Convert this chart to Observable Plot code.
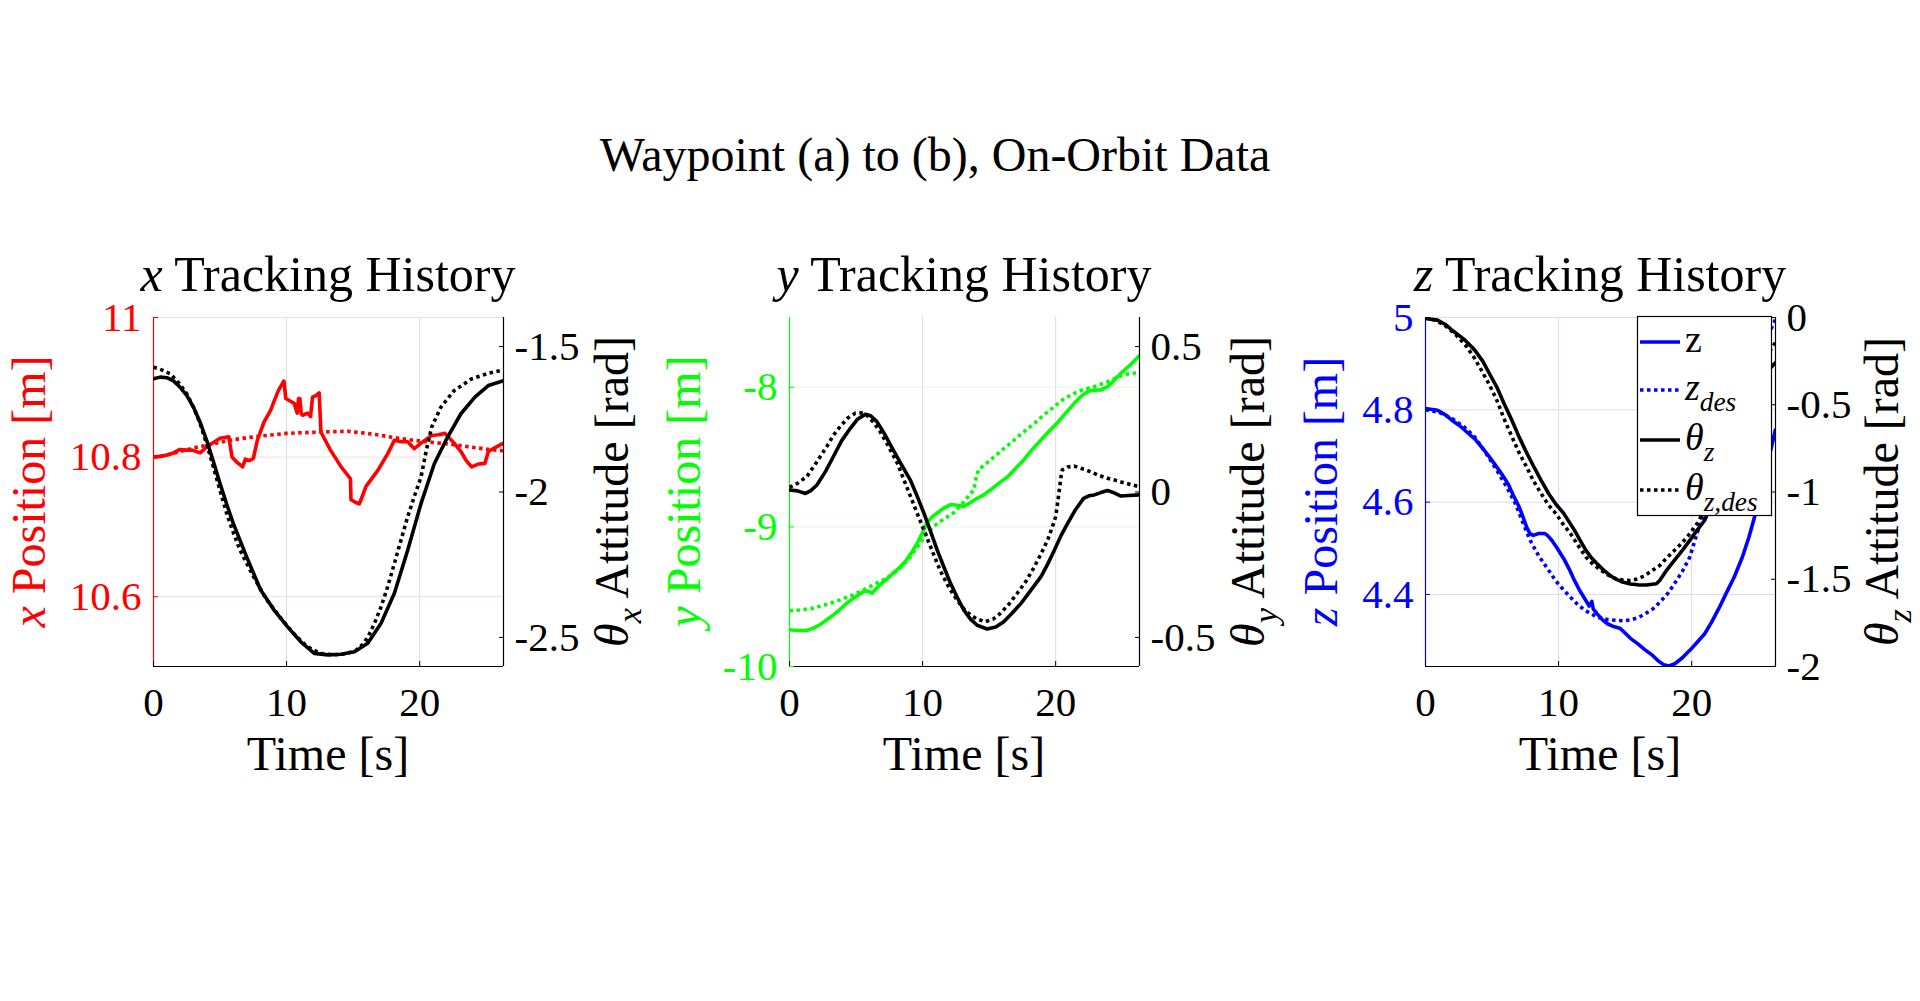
<!DOCTYPE html>
<html>
<head>
<meta charset="utf-8">
<script src="https://cdn.jsdelivr.net/npm/d3@7"></script>
<script src="https://cdn.jsdelivr.net/npm/@observablehq/plot@0.6"></script>
<style>
html, body { margin: 0; padding: 0; background: #fff; }
#root { position: relative; width: 1920px; height: 1001px; overflow: hidden; background: #fff; font-family: "Liberation Serif", serif; }
.layer { position: absolute; }
</style>
</head>
<body>
<div id="root"></div>
<script>
// ---------------- data ----------------
const mainTitle = "Waypoint (a) to (b), On-Orbit Data";
const timeTicks = [0, 10, 20];
const timeDomain = [0, 26.3];

// panel x
const xPosDomain = [10.5, 11];
const xPosTicks = [10.6, 10.8, 11];
const thetaXDomain = [-2.6, -1.4];
const thetaXTicks = [-2.5, -2, -1.5];
const xPos = [[0,10.800],[0.5,10.801],[1.0,10.803],[1.5,10.806],[2.0,10.811],[2.5,10.810],[2.9,10.810],[3.5,10.806],[3.8,10.811],[4.15,10.817],[4.6,10.822],[5.0,10.827],[5.66,10.829],[5.9,10.800],[6.3,10.792],[6.7,10.786],[6.9,10.797],[7.2,10.795],[7.5,10.798],[7.8,10.824],[8.3,10.850],[8.8,10.867],[9.1,10.882],[9.4,10.896],[9.8,10.909],[9.94,10.884],[10.3,10.880],[10.57,10.877],[10.8,10.863],[10.9,10.884],[11.0,10.884],[11.1,10.862],[11.2,10.860],[11.57,10.863],[11.8,10.858],[11.95,10.886],[12.2,10.888],[12.45,10.892],[12.58,10.836],[13.3,10.810],[14.1,10.786],[14.8,10.769],[14.84,10.739],[15.2,10.735],[15.47,10.733],[15.97,10.758],[16.86,10.781],[17.6,10.805],[18.1,10.824],[18.6,10.822],[19.1,10.822],[19.6,10.812],[20.1,10.820],[20.9,10.831],[21.4,10.832],[21.9,10.834],[22.6,10.820],[23.1,10.808],[23.5,10.795],[23.9,10.786],[24.4,10.790],[24.9,10.791],[25.16,10.808],[25.7,10.814],[26.3,10.820]];
const xDes = [[0,10.800],[1,10.803],[2,10.808],[3,10.813],[4,10.817],[5,10.821],[6,10.825],[7.5,10.829],[10,10.834],[12.6,10.836],[14.6,10.837],[16,10.834],[17.1,10.831],[18.4,10.827],[19.6,10.824],[21,10.821],[22.1,10.819],[23.6,10.815],[25.2,10.811],[26.3,10.809]];
const thetaX = [[0,-1.611],[0.5,-1.605],[1.0,-1.607],[1.5,-1.618],[2.0,-1.640],[2.5,-1.668],[3.0,-1.708],[3.5,-1.760],[4.0,-1.823],[4.5,-1.895],[5.0,-1.971],[5.5,-2.042],[6.0,-2.109],[7.0,-2.223],[8.05,-2.337],[9.06,-2.406],[10.06,-2.463],[11.07,-2.515],[12.08,-2.555],[13.1,-2.560],[14.1,-2.558],[15.1,-2.549],[16.1,-2.520],[17.1,-2.451],[18.1,-2.348],[19.1,-2.200],[20.1,-2.040],[21.1,-1.903],[22.1,-1.811],[23.1,-1.731],[24.15,-1.674],[25.16,-1.634],[26.3,-1.617]];
const thetaXDes = [[0,-1.571],[0.6,-1.580],[1.26,-1.594],[1.9,-1.625],[2.5,-1.662],[3.0,-1.708],[3.5,-1.765],[4.0,-1.835],[4.5,-1.914],[5.0,-1.995],[5.5,-2.074],[6.0,-2.140],[6.5,-2.200],[7.5,-2.290],[8.5,-2.370],[9.5,-2.430],[10.5,-2.485],[11.5,-2.530],[12.5,-2.555],[13.5,-2.560],[14.5,-2.556],[15.2,-2.545],[15.7,-2.525],[16.1,-2.500],[16.6,-2.452],[17.1,-2.395],[17.6,-2.325],[18.1,-2.246],[18.6,-2.165],[19.1,-2.085],[19.6,-2.015],[20.1,-1.949],[20.5,-1.857],[20.9,-1.777],[21.6,-1.708],[22.6,-1.651],[23.9,-1.611],[25.16,-1.592],[26.3,-1.580]];

// panel y
const yPosDomain = [-10, -7.5];
const yPosTicks = [-10, -9, -8];
const thetaYDomain = [-0.6, 0.6];
const thetaYTicks = [-0.5, 0, 0.5];
const yPos = [[0,-9.737],[0.6,-9.742],[1.3,-9.742],[1.8,-9.725],[2.3,-9.700],[2.8,-9.665],[3.3,-9.630],[3.8,-9.590],[4.3,-9.547],[4.9,-9.505],[5.57,-9.463],[5.9,-9.460],[6.2,-9.475],[6.5,-9.445],[6.8,-9.415],[7.3,-9.375],[7.8,-9.330],[8.3,-9.290],[8.8,-9.236],[9.2,-9.180],[9.6,-9.117],[10.0,-9.040],[10.3,-8.974],[10.7,-8.930],[11.1,-8.900],[11.6,-8.865],[12.1,-8.840],[12.6,-8.845],[13.1,-8.854],[13.6,-8.825],[14.1,-8.795],[14.6,-8.770],[15.1,-8.735],[15.7,-8.690],[16.4,-8.640],[17.0,-8.580],[17.6,-8.520],[18.2,-8.450],[18.9,-8.377],[19.5,-8.315],[20.1,-8.258],[20.7,-8.190],[21.4,-8.115],[21.9,-8.065],[22.4,-8.031],[22.9,-8.020],[23.4,-8.019],[23.9,-7.995],[24.4,-7.950],[24.9,-7.900],[25.6,-7.840],[26.27,-7.776]];
const yDes = [[0,-9.600],[0.9,-9.595],[1.8,-9.582],[2.8,-9.555],[3.8,-9.523],[4.8,-9.485],[5.8,-9.440],[6.5,-9.405],[7.3,-9.367],[8.0,-9.320],[8.8,-9.248],[9.3,-9.185],[9.8,-9.117],[10.3,-9.050],[10.8,-8.998],[11.5,-8.950],[12.3,-8.902],[13.1,-8.820],[13.85,-8.735],[14.0,-8.660],[14.2,-8.590],[14.8,-8.545],[15.4,-8.496],[16.1,-8.440],[16.9,-8.377],[17.6,-8.320],[18.4,-8.258],[19.1,-8.200],[19.9,-8.138],[20.6,-8.085],[21.4,-8.043],[22.1,-8.015],[22.9,-7.995],[23.4,-7.978],[23.9,-7.960],[24.5,-7.935],[25.1,-7.910],[25.7,-7.900],[26.27,-7.895]];
const thetaY = [[0,0.007],[0.6,0.004],[1.2,-0.005],[1.6,0.005],[2.06,0.024],[2.7,0.070],[3.3,0.122],[3.9,0.175],[4.57,0.219],[5.1,0.250],[5.7,0.267],[6.1,0.262],[6.57,0.242],[7.2,0.195],[7.8,0.144],[8.4,0.095],[9.08,0.041],[9.6,-0.015],[10.1,-0.073],[10.6,-0.135],[11.1,-0.200],[11.6,-0.258],[12.1,-0.314],[12.6,-0.362],[13.1,-0.406],[13.6,-0.437],[14.1,-0.458],[14.85,-0.471],[15.5,-0.464],[16.1,-0.446],[16.7,-0.418],[17.4,-0.383],[18.1,-0.340],[18.9,-0.291],[19.4,-0.248],[19.9,-0.200],[20.4,-0.150],[20.9,-0.108],[21.5,-0.060],[22.1,-0.022],[22.5,-0.013],[22.9,-0.010],[23.4,-0.002],[23.9,0.005],[24.4,-0.003],[24.9,-0.014],[25.5,-0.012],[26.27,-0.010]];
const thetaYDes = [[0,0.016],[0.6,0.030],[1.3,0.053],[2.0,0.100],[2.8,0.156],[3.3,0.195],[3.8,0.225],[4.4,0.255],[4.94,0.271],[5.4,0.272],[5.8,0.265],[6.3,0.240],[6.8,0.208],[7.4,0.160],[8.1,0.099],[8.7,0.030],[9.3,-0.039],[9.8,-0.097],[10.3,-0.154],[10.8,-0.211],[11.3,-0.268],[12.0,-0.330],[12.6,-0.372],[13.1,-0.402],[13.6,-0.423],[14.1,-0.437],[14.7,-0.446],[15.3,-0.437],[15.86,-0.417],[16.5,-0.385],[17.1,-0.349],[17.8,-0.305],[18.4,-0.257],[18.9,-0.213],[19.4,-0.165],[19.75,-0.120],[20.0,-0.085],[20.2,-0.020],[20.4,0.053],[20.5,0.076],[20.9,0.086],[21.4,0.089],[22.0,0.080],[22.6,0.070],[23.2,0.058],[23.9,0.047],[24.5,0.040],[25.1,0.032],[25.7,0.025],[26.27,0.018]];

// panel z
const zPosDomain = [4.244, 5];
const zPosTicks = [4.4, 4.6, 4.8, 5];
const thetaZDomain = [-2, 0];
const thetaZTicks = [-2, -1.5, -1, -0.5, 0];
const zPos = [[0,4.803],[0.9,4.799],[1.5,4.789],[2.0,4.777],[2.6,4.765],[3.1,4.752],[3.7,4.737],[4.2,4.720],[4.8,4.698],[5.36,4.676],[5.8,4.658],[6.2,4.640],[6.6,4.615],[7.03,4.590],[7.3,4.570],[7.6,4.546],[7.85,4.532],[8.1,4.528],[8.5,4.532],[8.98,4.532],[9.2,4.527],[9.5,4.517],[9.9,4.500],[10.4,4.477],[10.8,4.455],[11.2,4.430],[11.6,4.408],[12.05,4.387],[12.3,4.375],[12.5,4.385],[12.6,4.369],[12.9,4.358],[13.3,4.345],[13.7,4.336],[14.2,4.330],[14.6,4.327],[14.8,4.322],[15.4,4.305],[15.96,4.293],[16.5,4.280],[17.07,4.268],[17.5,4.256],[17.9,4.248],[18.3,4.245],[18.74,4.250],[19.3,4.263],[19.86,4.279],[20.4,4.296],[20.98,4.315],[21.5,4.340],[22.1,4.373],[22.6,4.403],[23.2,4.438],[23.8,4.480],[24.3,4.524],[24.7,4.565],[25.16,4.618],[25.6,4.670],[26.0,4.720],[26.28,4.756]];
const zDes = [[0,4.800],[1,4.795],[2,4.781],[2.9,4.763],[3.7,4.741],[4.5,4.708],[5.36,4.669],[6.1,4.633],[6.75,4.597],[7.3,4.557],[7.87,4.517],[8.5,4.484],[9.26,4.452],[9.8,4.429],[10.4,4.409],[11.0,4.391],[11.5,4.376],[12.2,4.362],[12.9,4.351],[13.6,4.346],[14.3,4.344],[14.9,4.343],[15.4,4.345],[16.0,4.350],[16.5,4.358],[17.1,4.369],[17.6,4.383],[18.2,4.402],[18.7,4.423],[19.3,4.450],[19.86,4.481],[20.4,4.532],[21.0,4.580],[21.6,4.630],[22.2,4.685],[22.8,4.740],[23.4,4.795],[24.0,4.845],[24.6,4.890],[25.2,4.930],[25.8,4.965],[26.28,4.995]];
const thetaZ = [[0,-0.006],[0.9,-0.015],[1.5,-0.040],[2.0,-0.073],[2.9,-0.125],[3.7,-0.187],[4.3,-0.250],[4.8,-0.321],[5.4,-0.405],[5.9,-0.493],[6.5,-0.590],[7.03,-0.684],[7.6,-0.775],[8.15,-0.857],[8.7,-0.935],[9.26,-1.010],[9.8,-1.070],[10.4,-1.124],[11.2,-1.220],[11.6,-1.275],[12.05,-1.335],[12.5,-1.380],[12.9,-1.411],[13.3,-1.442],[13.7,-1.468],[14.2,-1.495],[14.8,-1.516],[15.4,-1.527],[15.96,-1.532],[16.6,-1.533],[17.35,-1.526],[17.6,-1.507],[18.1,-1.450],[18.7,-1.392],[19.3,-1.335],[19.86,-1.277],[20.4,-1.220],[20.98,-1.162],[22.0,-0.980],[23.0,-0.780],[24.0,-0.580],[25.0,-0.410],[25.8,-0.300],[26.28,-0.260]];
const thetaZDes = [[0,0.000],[0.7,-0.015],[1.45,-0.044],[2.3,-0.100],[3.1,-0.168],[3.7,-0.235],[4.2,-0.302],[4.8,-0.385],[5.36,-0.474],[5.9,-0.580],[6.5,-0.684],[7.0,-0.770],[7.6,-0.857],[8.1,-0.935],[8.7,-1.010],[9.2,-1.070],[9.8,-1.124],[10.3,-1.180],[10.9,-1.239],[11.5,-1.310],[12.05,-1.373],[12.6,-1.415],[13.2,-1.449],[13.7,-1.475],[14.3,-1.497],[14.9,-1.506],[15.4,-1.507],[16.0,-1.497],[16.5,-1.478],[17.0,-1.452],[17.6,-1.421],[18.1,-1.380],[18.7,-1.335],[19.3,-1.290],[19.86,-1.239],[20.4,-1.182],[21.0,-1.100],[22.0,-0.920],[23.0,-0.720],[24.0,-0.520],[25.0,-0.330],[25.8,-0.200],[26.28,-0.145]];

const legendLabels = ["z", "z_des", "θ_z", "θ_z,des"];

// ---------------- layout ----------------
const FONT = "'Liberation Serif', 'Times New Roman', serif";
const FRAME_W = 350, FRAME_H = 349, FRAME_TOP = 317;
const ML = 130, MR = 150, MT = 20, MB = 100;
const W = ML + FRAME_W + MR, H = MT + FRAME_H + MB;
const TICK_FS = 41;
const LW = 3.6, DASH = "3.5,3.5";
const fmt = d => String(d);
const root = document.getElementById("root");

const panels = [
  {left: 153, color: "#ff0000", hgrid: "#ffd9d9", vgrid: "#dcdcdc",
   lDomain: xPosDomain, lTicks: xPosTicks, rDomain: thetaXDomain, rTicks: thetaXTicks,
   act: xPos, des: xDes, ract: thetaX, rdes: thetaXDes},
  {left: 789, color: "#00ff00", hgrid: "#d9ffd9", vgrid: "#dcdcdc",
   lDomain: yPosDomain, lTicks: yPosTicks, rDomain: thetaYDomain, rTicks: thetaYTicks,
   act: yPos, des: yDes, ract: thetaY, rdes: thetaYDes},
  {left: 1425, color: "#0000ff", hgrid: "#d9d9ff", vgrid: "#d9d9f4",
   lDomain: zPosDomain, lTicks: zPosTicks, rDomain: thetaZDomain, rTicks: thetaZTicks,
   act: zPos, des: zDes, ract: thetaZ, rdes: thetaZDes}
];

const svgStyle = {background: "transparent", overflow: "visible", maxWidth: "none", fontFamily: FONT};
const solid = c => ({x: d => d[0], y: d => d[1], stroke: c, strokeWidth: LW, clip: true});
const dotted = c => ({x: d => d[0], y: d => d[1], stroke: c, strokeWidth: LW, strokeDasharray: DASH, strokeLinecap: "butt", clip: true});

function place(svg, p) {
  const div = document.createElement("div");
  div.className = "layer";
  div.style.left = (p.left - ML) + "px";
  div.style.top = (FRAME_TOP - MT) + "px";
  div.appendChild(svg);
  root.appendChild(div);
}

for (const p of panels) {
  const leftPlot = Plot.plot({
    width: W, height: H, marginLeft: ML, marginRight: MR, marginTop: MT, marginBottom: MB,
    style: svgStyle,
    x: {domain: timeDomain, label: null, axis: null},
    y: {domain: p.lDomain, label: null, axis: null},
    marks: [
      Plot.gridX(timeTicks, {stroke: p.vgrid, strokeOpacity: 1}),
      Plot.gridY(p.lTicks, {stroke: p.hgrid, strokeOpacity: 1}),
      Plot.line(p.act, solid(p.color)),
      Plot.line(p.des, dotted(p.color)),
      Plot.ruleY([p.lDomain[0]], {stroke: "black", strokeWidth: 1.2}),
      Plot.ruleX([timeDomain[0]], {stroke: p.color, strokeWidth: 1.2}),
      Plot.axisX(timeTicks, {anchor: "bottom", tickSize: 5, dy: -5, tickFormat: () => "", stroke: "black", label: null}),
      Plot.axisX(timeTicks, {anchor: "bottom", tickSize: 0, tickPadding: 20, tickFormat: fmt, fill: "black", fontSize: TICK_FS, fontFamily: FONT, label: null}),
      Plot.axisY(p.lTicks, {anchor: "left", tickSize: 5, dx: 5, tickFormat: () => "", stroke: p.color, label: null}),
      Plot.axisY(p.lTicks, {anchor: "left", tickSize: 0, tickPadding: 12, tickFormat: fmt, fill: p.color, fontSize: TICK_FS, fontFamily: FONT, label: null})
    ]
  });
  place(leftPlot, p);

  const rightPlot = Plot.plot({
    width: W, height: H, marginLeft: ML, marginRight: MR, marginTop: MT, marginBottom: MB,
    style: svgStyle,
    x: {domain: timeDomain, label: null, axis: null},
    y: {domain: p.rDomain, label: null, axis: null},
    marks: [
      Plot.line(p.ract, solid("black")),
      Plot.line(p.rdes, dotted("black")),
      Plot.ruleX([timeDomain[1]], {stroke: "black", strokeWidth: 1.2}),
      Plot.axisY(p.rTicks, {anchor: "right", tickSize: 5, dx: -5, tickFormat: () => "", stroke: "black", label: null}),
      Plot.axisY(p.rTicks, {anchor: "right", tickSize: 0, tickPadding: 11, tickFormat: fmt, fill: "black", fontSize: TICK_FS, fontFamily: FONT, label: null})
    ]
  });
  place(rightPlot, p);
}

// ---------------- text overlay (titles, labels, legend) ----------------
const ov = d3.select(root).append("svg")
  .attr("width", 1920).attr("height", 1001)
  .style("position", "absolute").style("left", "0px").style("top", "0px")
  .attr("font-family", FONT);

function addText(x, y, parts, {size = 48, anchor = "middle", rotate = false, fill = "black"} = {}) {
  const t = ov.append("text")
    .attr("x", x).attr("y", y)
    .attr("font-size", size)
    .attr("text-anchor", anchor)
    .attr("fill", fill);
  if (rotate) t.attr("transform", `rotate(-90 ${x} ${y})`);
  let shift = 0;
  for (const part of parts) {
    const sp = t.append("tspan").text(part.t);
    if (part.italic) sp.attr("font-style", "italic");
    const want = part.sub ? size * 0.28 : 0;
    if (want !== shift) { sp.attr("dy", want - shift); shift = want; }
    if (part.sub) sp.attr("font-size", size * 0.72);
  }
  return t;
}

addText(935, 171, [{t: mainTitle}], {size: 48});

const axisNames = ["x", "y", "z"];
const leftLabelX = [45, 700, 1337];
const rightLabelX = [628, 1264, 1898];
panels.forEach((p, i) => {
  const cx = p.left + FRAME_W / 2;
  const cy = FRAME_TOP + FRAME_H / 2;
  addText(cx, 291, [{t: axisNames[i], italic: true}, {t: " Tracking History"}], {size: 50});
  addText(cx, 770, [{t: "Time [s]"}], {size: 48});
  addText(leftLabelX[i], cy, [{t: axisNames[i], italic: true}, {t: " Position [m]"}], {size: 48, rotate: true, fill: p.color});
  addText(rightLabelX[i], cy, [{t: "θ", italic: true}, {t: axisNames[i], italic: true, sub: true}, {t: " Attitude [rad]"}], {size: 48, rotate: true});
});

// legend (panel z)
const lg = ov.append("g");
lg.append("rect").attr("x", 1637.5).attr("y", 316.5).attr("width", 134).attr("height", 199)
  .attr("fill", "white").attr("stroke", "black").attr("stroke-width", 1.2);
const legendRows = [
  {y: 342, color: "#0000ff", dash: null, parts: [{t: "z"}]},
  {y: 390, color: "#0000ff", dash: DASH, parts: [{t: "z", italic: true}, {t: "des", italic: true, sub: true}]},
  {y: 440, color: "black", dash: null, parts: [{t: "θ", italic: true}, {t: "z", italic: true, sub: true}]},
  {y: 490, color: "black", dash: DASH, parts: [{t: "θ", italic: true}, {t: "z,des", italic: true, sub: true}]}
];
legendRows.forEach((r, i) => {
  const ln = lg.append("line").attr("x1", 1640).attr("x2", 1680).attr("y1", r.y).attr("y2", r.y)
    .attr("stroke", r.color).attr("stroke-width", LW);
  if (r.dash) ln.attr("stroke-dasharray", r.dash);
  addText(1685, r.y + 10, r.parts, {size: 38, anchor: "start"}).attr("data-legend", legendLabels[i]);
});
</script>
</body>
</html>
